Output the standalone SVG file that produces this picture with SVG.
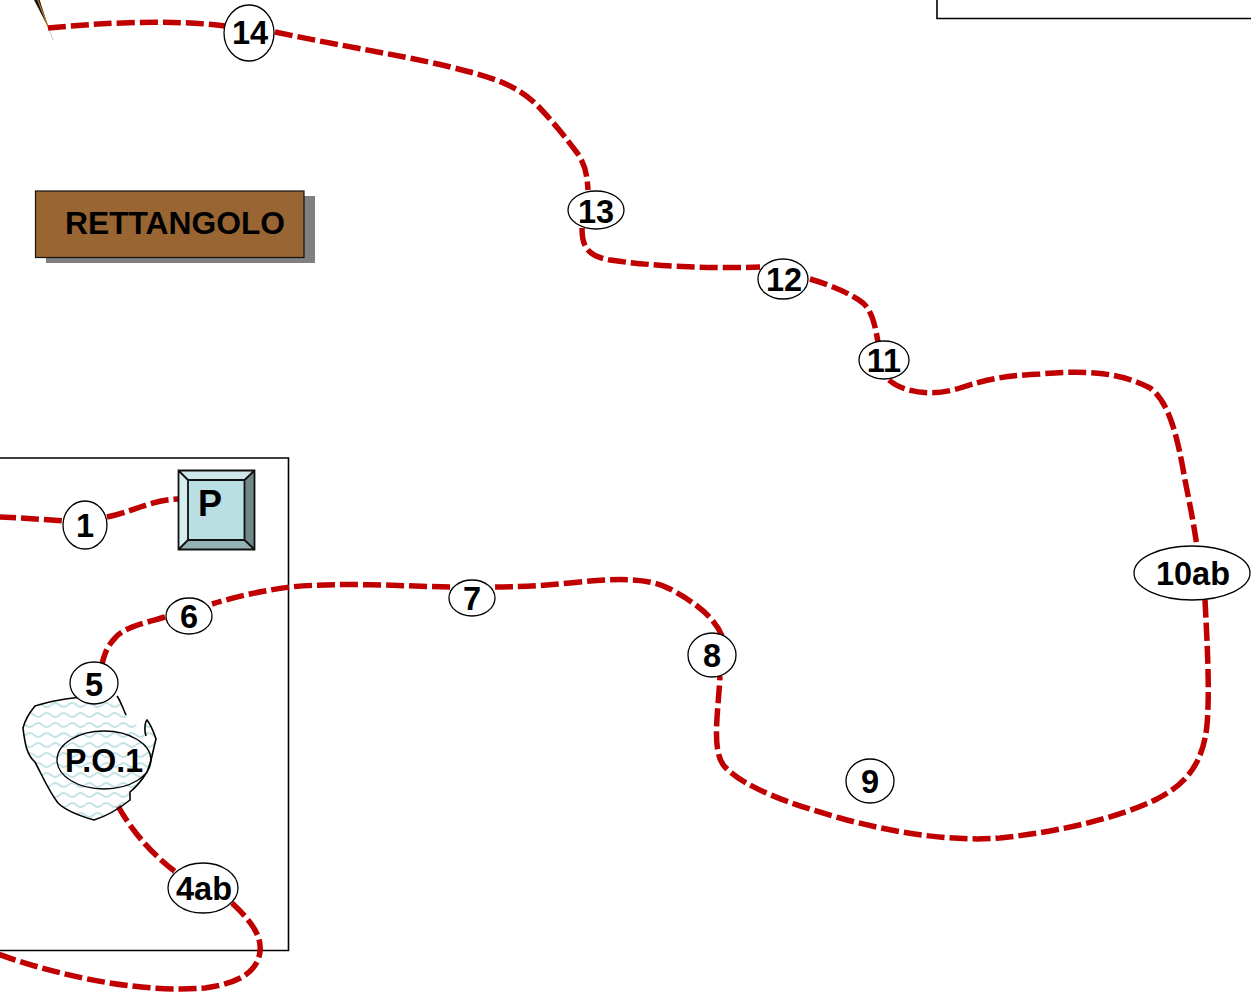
<svg xmlns="http://www.w3.org/2000/svg" width="1251" height="992" viewBox="0 0 1251 992">
<style>
.c{fill:none;stroke:#c00000;stroke-width:5.500;stroke-dasharray:18 5}
.n{fill:#fff;stroke:#000;stroke-width:1.300}
text{font-family:"Liberation Sans",Arial,sans-serif;font-weight:700;fill:#000;text-anchor:middle}
.t{font-size:32.500px}
.b{fill:none;stroke:#000;stroke-width:1.600}
</style>
<defs>
<pattern id="w" width="17" height="20" patternUnits="userSpaceOnUse">
<path d="M0 5Q4.250 1 8.500 5T17 5" fill="none" stroke="#c4e3e6" stroke-width="2"/>
<path d="M-8.500 15Q-4.250 11 0 15T8.500 15T17 15T25.500 15" fill="none" stroke="#c4e3e6" stroke-width="2"/>
</pattern>
</defs>
<rect width="1251" height="992" fill="#fff"/>
<g id="frames">
<path class="b" d="M-2 458H288.500V950.500H-2"/>
<path class="b" d="M937 0V18.500H1253"/>
</g>
<g id="pointer">
<path d="M33 -2L49 29L39 -2Z" fill="#111"/>
<path d="M37 -2L49 29" stroke="#c87a20" stroke-width="1.200" fill="none"/>
<path d="M49 29L53 40" stroke="#bbb" stroke-width="0.800" fill="none"/>
</g>
<g id="connectors">
<path class="c" d="M48 28C100 23 170 19 225 26"/>
<path class="c" d="M275 32C340 46 420 58 470 72C500 80 520 88 538 106C555 124 566 138 578 154C586 166 587 176 588 190"/>
<path class="c" d="M582 228C582 245 586 256 610 260C650 266 710 269 760 267"/>
<path class="c" d="M810 279C830 285 850 293 863 303C872 311 875 325 878 342"/>
<path class="c" d="M889 380C905 394 935 396 960 388C985 380 1000 376 1040 374C1085 370 1120 372 1150 388C1170 402 1178 440 1185 480C1190 505 1194 525 1197 547"/>
<path class="c" d="M1205 600C1207 640 1210 690 1207 725C1203 765 1185 785 1155 800C1120 817 1060 832 1000 838C950 842 890 832 840 818C790 804 745 788 725 767C711 752 718 715 720 676"/>
<path class="c" d="M722 636C715 618 695 602 670 589C645 576 610 579 570 583C540 586 515 587 495 587"/>
<path class="c" d="M450 587C400 586 340 582 290 587C260 591 235 597 212 604"/>
<path class="c" d="M165 617C145 623 125 627 116 637C108 645 105 652 102 664"/>
<path class="c" d="M118 806C130 828 150 853 177 873"/>
<path class="c" d="M232 903C250 920 262 935 260 952C257 972 240 983 205 988C150 993 70 980 -2 954"/>
<path class="c" d="M-2 517C20 518 40 519 64 521"/>
<path class="c" d="M107 517C130 513 150 500 178 499"/>
</g>
<g id="rettangolo">
<rect x="46" y="196" width="269" height="67" fill="#808080"/>
<rect x="35.500" y="191" width="268.500" height="66.500" fill="#963" stroke="#111" stroke-width="1.200"/>
<text x="175" y="234" font-size="32" textLength="220" lengthAdjust="spacingAndGlyphs">RETTANGOLO</text>
</g>
<g id="P">
<rect x="178.500" y="470.500" width="76" height="79" fill="#b9dfe2"/>
<path d="M178.500 470.500H254.500L244.500 480H188Z" fill="#cde7ea"/>
<path d="M178.500 470.500L188 480V540L178.500 549.500Z" fill="#d6edef"/>
<path d="M254.500 470.500V549.500L244.500 540V480Z" fill="#708889"/>
<path d="M178.500 549.500L188 540H244.500L254.500 549.500Z" fill="#94b2b4"/>
<path d="M178.500 470.500H254.500V549.500H178.500ZM188 480H244.500V540H188ZM178.500 470.500L188 480M254.500 470.500L244.500 480M178.500 549.500L188 540M254.500 549.500L244.500 540" fill="none" stroke="#111" stroke-width="1.800"/>
<text x="210" y="516" font-size="36">P</text>
</g>
<g id="po1-area">
<path d="M35 706C50 701 70 698 90 696L117 696C122 702 124 708 127 716C135 722 142 730 146 738C144 730 145 722 147 720C151 725 154 733 156 739C153 750 152 760 147 772C142 780 135 788 130 792V800C120 808 110 815 94 820C80 816 65 810 58 803C48 790 42 775 35 762C27 755 25 745 23 728C25 720 30 712 35 706Z" fill="url(#w)"/>
<path d="M126 715C122 706 120 700 117 696M90 696C70 698 50 701 35 706C30 712 25 720 23 728C25 745 27 755 35 762C42 775 48 790 58 803C65 810 80 816 94 820C110 815 120 808 130 800V792C135 788 142 780 147 772C152 760 153 750 156 739C154 733 151 725 147 720C145 722 144 730 146 736" fill="none" stroke="#000" stroke-width="1.600"/>
</g>
<g id="n14"><ellipse class="n" cx="249" cy="33" rx="25" ry="28"/><text class="t" x="250" y="44">14</text></g>
<g id="n13"><ellipse class="n" cx="596" cy="210" rx="28" ry="19"/><text class="t" x="596" y="223">13</text></g>
<g id="n12"><ellipse class="n" cx="783" cy="279" rx="25" ry="20"/><text class="t" x="784" y="291">12</text></g>
<g id="n11"><ellipse class="n" cx="884" cy="360" rx="25" ry="19"/><text class="t" x="884" y="372">11</text></g>
<g id="n10ab"><ellipse class="n" cx="1192" cy="573" rx="58" ry="27"/><text class="t" x="1193" y="585">10ab</text></g>
<g id="n9"><ellipse class="n" cx="870" cy="781" rx="24" ry="22"/><text class="t" x="870" y="793">9</text></g>
<g id="n8"><ellipse class="n" cx="712" cy="655" rx="24" ry="22"/><text class="t" x="712" y="667">8</text></g>
<g id="n7"><ellipse class="n" cx="472" cy="598" rx="23" ry="18"/><text class="t" x="472" y="610">7</text></g>
<g id="n6"><ellipse class="n" cx="189" cy="616" rx="23" ry="18"/><text class="t" x="189" y="628">6</text></g>
<g id="n5"><ellipse class="n" cx="94" cy="683" rx="24" ry="21"/><text class="t" x="94" y="696">5</text></g>
<g id="n1"><ellipse class="n" cx="85" cy="525" rx="22" ry="24"/><text class="t" x="85" y="537">1</text></g>
<g id="po1"><ellipse cx="104" cy="760" rx="47" ry="29" fill="none" stroke="#000" stroke-width="1.300"/><text class="t" x="104" y="772" textLength="78" lengthAdjust="spacingAndGlyphs">P.O.1</text></g>
<g id="n4ab"><ellipse class="n" cx="203" cy="888" rx="35" ry="25"/><text class="t" x="204" y="900">4ab</text></g>
</svg>
